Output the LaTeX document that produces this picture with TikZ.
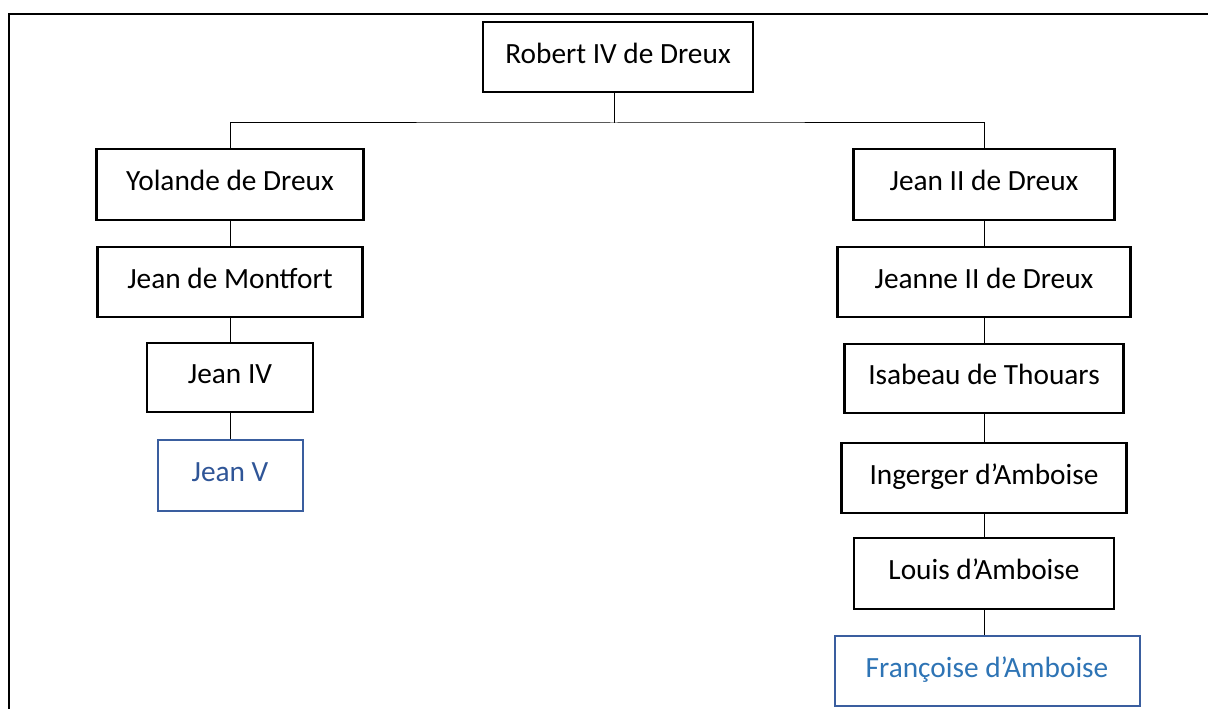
\documentclass[tikz,border=0pt]{standalone}
\usepackage{fontspec}
\setmainfont{Carlito}
\usepackage{tikz}

\definecolor{heirline}{HTML}{3A5E9F}
\definecolor{heirtext}{HTML}{2F5597}
\definecolor{heirtextb}{HTML}{2E74B5}

\begin{document}
\begin{tikzpicture}[x=0.75pt,y=-0.75pt,line width=0.75pt,
    person/.style={draw,line width=1.7pt,inner sep=0pt,align=center,
      text height=15pt,text depth=5.5pt,
      font=\fontsize{22}{26}\selectfont},
    heir/.style={person,draw=heirline,line width=1.5pt}]
  \useasboundingbox (0,0) rectangle (1208,709);
  \draw[line width=1pt] (1208,14) -- (9,14) -- (9,709);

  \node[person,minimum width=270pt*0.75,minimum height=70pt*0.75] (robert) at (618,57) {Robert IV de Dreux};
  \coordinate (split) at (614,123);

  \node[person,minimum width=267pt*0.75,minimum height=71pt*0.75] (yolande) at (230,184.5) {Yolande de Dreux};
  \node[person,minimum width=265pt*0.75,minimum height=70pt*0.75] (montfort) at (230,282) {Jean de Montfort};
  \node[person,minimum width=166pt*0.75,minimum height=69pt*0.75] (jeaniv) at (230,377.5) {Jean IV};
  \node[heir,text=heirtext,minimum width=145pt*0.75,minimum height=71pt*0.75] (jeanv) at (230,475.5) {Jean V};

  \node[person,minimum width=261pt*0.75,minimum height=71pt*0.75] (jeanii) at (984,184.5) {Jean II de Dreux};
  \node[person,minimum width=293pt*0.75,minimum height=70pt*0.75] (jeanne) at (984,282) {Jeanne II de Dreux};
  \node[person,minimum width=279pt*0.75,minimum height=69pt*0.75] (isabeau) at (984,378.5) {Isabeau de Thouars};
  \node[person,minimum width=285pt*0.75,minimum height=70pt*0.75] (ingerger) at (984,478) {Ingerger d’Amboise};
  \node[person,minimum width=260pt*0.75,minimum height=71pt*0.75] (louis) at (984,573.5) {Louis d’Amboise};
  \node[heir,text=heirtextb,minimum width=305pt*0.75,minimum height=70pt*0.75] (francoise) at (987,671) {Françoise d’Amboise};

  \draw (robert.south -| split) -- (split);
  \draw (yolande.north) |- (split) -| (jeanii.north);

  \draw (yolande) -- (montfort);
  \draw (montfort) -- (jeaniv);
  \draw (jeaniv) -- (jeanv);

  \draw (jeanii) -- (jeanne);
  \draw (jeanne) -- (isabeau);
  \draw (isabeau) -- (ingerger);
  \draw (ingerger) -- (louis);
  \draw (louis.south) -- (louis.south |- francoise.north);
\end{tikzpicture}
\end{document}
